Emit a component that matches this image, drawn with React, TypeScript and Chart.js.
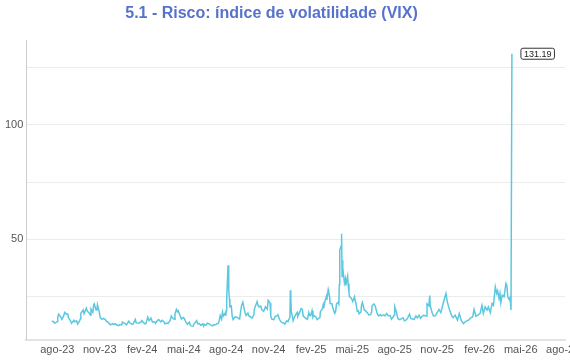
import { useEffect, useRef } from 'react';
import { Chart, registerables } from 'chart.js';

Chart.register(...registerables);

const titleText = '5.1 - Risco: índice de volatilidade (VIX)';

const dates: string[] = [
  '2023-07-20','2023-07-24','2023-07-26','2023-07-28','2023-08-01','2023-08-02','2023-08-04','2023-08-08','2023-08-11','2023-08-15',
  '2023-08-17','2023-08-21','2023-08-24','2023-08-25','2023-08-29','2023-09-01','2023-09-06','2023-09-08','2023-09-12','2023-09-14',
  '2023-09-18','2023-09-20','2023-09-21','2023-09-26','2023-09-28','2023-10-03','2023-10-05','2023-10-09','2023-10-12','2023-10-13',
  '2023-10-17','2023-10-19','2023-10-20','2023-10-24','2023-10-26','2023-10-27','2023-10-31','2023-11-02','2023-11-06','2023-11-09',
  '2023-11-13','2023-11-15','2023-11-20','2023-11-24','2023-11-29','2023-12-01','2023-12-05','2023-12-08','2023-12-12','2023-12-14',
  '2023-12-19','2023-12-20','2023-12-26','2023-12-29',
  '2024-01-03','2024-01-05','2024-01-09','2024-01-12','2024-01-17','2024-01-19','2024-01-24','2024-01-29','2024-01-31','2024-02-02',
  '2024-02-07','2024-02-09','2024-02-13','2024-02-16','2024-02-20','2024-02-23','2024-02-28','2024-03-01','2024-03-05','2024-03-08',
  '2024-03-12','2024-03-15','2024-03-19','2024-03-21','2024-03-26','2024-03-28','2024-04-02','2024-04-04','2024-04-08','2024-04-11',
  '2024-04-12','2024-04-15','2024-04-17','2024-04-19','2024-04-22','2024-04-24','2024-04-26','2024-04-30','2024-05-02','2024-05-06',
  '2024-05-09','2024-05-13','2024-05-15','2024-05-17','2024-05-21','2024-05-23','2024-05-29','2024-05-31','2024-06-04','2024-06-07',
  '2024-06-11','2024-06-13','2024-06-14','2024-06-18','2024-06-21','2024-06-25','2024-06-28','2024-07-02','2024-07-05','2024-07-09',
  '2024-07-11','2024-07-15','2024-07-17','2024-07-19','2024-07-22','2024-07-24','2024-07-26','2024-07-30','2024-07-31','2024-08-01',
  '2024-08-02','2024-08-05','2024-08-06','2024-08-07','2024-08-08','2024-08-09','2024-08-12','2024-08-14','2024-08-16','2024-08-20',
  '2024-08-23','2024-08-27','2024-08-30','2024-09-03','2024-09-06','2024-09-09','2024-09-11','2024-09-13','2024-09-17','2024-09-19',
  '2024-09-23','2024-09-26','2024-09-30','2024-10-01','2024-10-03','2024-10-07','2024-10-09','2024-10-11','2024-10-15','2024-10-17',
  '2024-10-21','2024-10-23','2024-10-25','2024-10-29','2024-10-31','2024-11-04','2024-11-05','2024-11-06','2024-11-08','2024-11-12',
  '2024-11-15','2024-11-19','2024-11-21','2024-11-25','2024-11-29','2024-12-03','2024-12-06','2024-12-10','2024-12-13','2024-12-17',
  '2024-12-18','2024-12-19','2024-12-20','2024-12-24','2024-12-27','2024-12-31',
  '2025-01-02','2025-01-03','2025-01-07','2025-01-10','2025-01-13','2025-01-15','2025-01-17','2025-01-22','2025-01-24','2025-01-27',
  '2025-01-29','2025-01-31','2025-02-03','2025-02-05','2025-02-07','2025-02-11','2025-02-14','2025-02-18','2025-02-20','2025-02-21',
  '2025-02-25','2025-02-27','2025-02-28','2025-03-03','2025-03-04','2025-03-06','2025-03-07','2025-03-10','2025-03-11','2025-03-13',
  '2025-03-14','2025-03-18','2025-03-20','2025-03-24','2025-03-26','2025-03-28','2025-03-31','2025-04-02','2025-04-03','2025-04-04',
  '2025-04-07','2025-04-08','2025-04-09','2025-04-10','2025-04-11','2025-04-14','2025-04-16','2025-04-17','2025-04-21','2025-04-22',
  '2025-04-24','2025-04-25','2025-04-29','2025-05-02','2025-05-06','2025-05-08','2025-05-09','2025-05-12','2025-05-14','2025-05-16',
  '2025-05-20','2025-05-21','2025-05-23','2025-05-27','2025-05-30','2025-06-03','2025-06-06','2025-06-10','2025-06-12','2025-06-13',
  '2025-06-17','2025-06-20','2025-06-24','2025-06-27','2025-07-01','2025-07-03','2025-07-08','2025-07-11','2025-07-15','2025-07-18',
  '2025-07-22','2025-07-25','2025-07-29','2025-07-31','2025-08-01','2025-08-05','2025-08-08','2025-08-12','2025-08-15','2025-08-19',
  '2025-08-22','2025-08-26','2025-08-29','2025-09-02','2025-09-05','2025-09-09','2025-09-12','2025-09-16','2025-09-19','2025-09-23',
  '2025-09-26','2025-09-30','2025-10-03','2025-10-08','2025-10-10','2025-10-14','2025-10-16','2025-10-17','2025-10-21','2025-10-24',
  '2025-10-28','2025-10-31','2025-11-05','2025-11-09','2025-11-14','2025-11-20','2025-11-23','2025-11-28','2025-12-03','2025-12-06',
  '2025-12-10','2025-12-15','2025-12-19','2025-12-23','2025-12-28',
  '2026-01-02','2026-01-08','2026-01-13','2026-01-17','2026-01-20','2026-01-24','2026-01-28','2026-02-02','2026-02-06','2026-02-09',
  '2026-02-13','2026-02-17','2026-02-20','2026-02-24','2026-02-28','2026-03-03','2026-03-07','2026-03-10','2026-03-12','2026-03-15',
  '2026-03-17','2026-03-19','2026-03-22','2026-03-26','2026-03-30','2026-04-01','2026-04-03','2026-04-06','2026-04-08','2026-04-10',
  '2026-04-12',
];

const vix: number[] = [
  13.99,13.91,13.19,13.33,13.93,15.88,17.10,15.99,14.84,16.46,
  17.89,17.13,17.20,15.68,14.45,13.09,14.45,13.84,14.23,12.82,
  14.00,15.14,17.54,18.94,17.34,19.78,18.49,17.70,16.69,19.32,
  17.88,21.40,21.71,18.97,19.22,21.27,18.14,15.66,14.89,15.29,
  14.76,14.18,13.41,12.46,12.98,12.63,12.85,12.35,12.07,12.48,
  12.53,13.67,12.99,12.45,
  14.04,13.35,12.76,12.70,14.79,13.30,13.14,13.60,14.35,13.85,
  12.83,12.93,15.85,14.24,15.42,13.75,13.84,13.11,14.46,14.74,
  13.75,14.41,13.82,12.92,13.24,13.01,14.61,16.35,15.19,14.91,
  17.31,19.23,18.21,18.71,16.94,15.97,15.03,15.65,15.39,13.49,
  12.69,13.60,12.45,11.99,11.86,12.77,14.28,12.92,13.06,12.22,
  12.85,11.94,12.66,12.30,13.20,12.84,12.44,12.03,12.48,12.52,
  12.89,13.12,14.48,16.52,14.91,18.04,16.39,17.69,16.36,18.59,
  23.39,38.57,27.71,27.85,23.79,20.37,20.71,16.19,14.80,15.88,
  15.86,15.43,15.00,20.72,22.38,19.45,17.69,16.56,17.61,16.33,
  15.89,15.37,16.73,19.26,20.49,22.64,20.86,20.46,20.64,19.11,
  18.37,19.24,20.33,19.34,23.16,21.98,20.49,16.27,14.94,14.71,
  16.14,16.35,16.87,14.60,13.51,13.30,12.77,14.18,13.81,15.87,
  27.62,24.09,18.36,14.27,15.95,17.35,
  17.93,16.13,17.82,19.54,19.19,16.12,15.97,15.10,14.85,17.90,
  16.56,16.43,18.62,15.77,16.54,16.02,14.77,15.35,15.66,18.21,
  19.43,21.13,19.63,22.78,23.51,24.87,23.37,27.86,26.92,24.66,
  21.77,21.70,19.80,17.48,18.33,21.65,22.28,21.51,30.02,45.31,
  46.98,52.33,33.62,40.72,37.56,30.89,32.64,29.65,33.82,30.57,
  26.47,24.84,24.17,22.68,24.76,22.48,21.90,18.39,18.62,17.24,
  18.09,20.87,22.29,18.96,18.57,17.69,16.77,16.95,18.02,20.82,
  21.60,20.62,17.48,16.32,16.83,16.38,16.81,16.40,17.38,16.41,
  16.50,14.93,15.98,16.72,20.38,17.85,15.15,14.73,15.09,15.57,
  14.22,14.62,15.36,17.17,15.18,15.04,14.76,16.36,15.45,16.64,
  15.29,16.28,16.65,16.30,21.66,20.81,25.31,20.78,17.87,16.37,
  16.42,17.44,19.2,17.8,21.8,26.2,22.5,18.9,16.2,15.6,
  16.7,14.5,17.4,14.5,13.0,
  14.0,14.5,15.6,15.9,19.2,16.2,16.7,17.4,21.0,17.4,
  20.3,18.9,20.3,17.8,21.8,21.0,29.1,26.2,27.3,24.0,
  26.2,22.1,25.4,24.7,30.6,29.8,24.7,23.6,24.4,18.9,
  131.19,
];

const tickDates: string[] = [
  '2023-08-01','2023-11-01','2024-02-01','2024-05-01','2024-08-01','2024-11-01','2025-02-01',
  '2025-05-01','2025-08-01','2025-11-01','2026-02-01','2026-05-01','2026-08-01',
];
const tickLabels: string[] = [
  'ago-23','nov-23','fev-24','mai-24','ago-24','nov-24','fev-25',
  'mai-25','ago-25','nov-25','fev-26','mai-26','ago-26',
];
const yGridValues: number[] = [25, 50, 75, 100, 125];
const yLabelValues: number[] = [50, 100];
const lastValueLabel = '131.19';

const dayNum = (s: string): number => {
  const [y, m, d] = s.split('-').map(Number);
  return Date.UTC(y, m - 1, d) / 864e5;
};

const titlePlugin = {
  id: 'customTitle',
  afterDraw(chart: any) {
    const ctx = chart.ctx;
    ctx.save();
    ctx.font = 'bold 16px "Liberation Sans", Arial, sans-serif';
    ctx.fillStyle = '#5772cc';
    ctx.textAlign = 'center';
    ctx.textBaseline = 'alphabetic';
    ctx.fillText(titleText, 271.5, 17.5);
    ctx.restore();
  },
};

const lastLabelPlugin = {
  id: 'lastLabel',
  afterDatasetsDraw(chart: any) {
    const meta = chart.getDatasetMeta(0);
    const pt = meta.data[meta.data.length - 1];
    if (!pt) return;
    const ctx = chart.ctx;
    ctx.save();
    ctx.font = '9px "Liberation Sans", Arial, sans-serif';
    const w = ctx.measureText(lastValueLabel).width;
    const padX = 3;
    const h = 11;
    const x0 = pt.x + 9;
    const y0 = pt.y - h / 2;
    const bw = w + padX * 2;
    ctx.beginPath();
    const r = 2;
    ctx.moveTo(x0 + r, y0);
    ctx.lineTo(x0 + bw - r, y0);
    ctx.quadraticCurveTo(x0 + bw, y0, x0 + bw, y0 + r);
    ctx.lineTo(x0 + bw, y0 + h - r);
    ctx.quadraticCurveTo(x0 + bw, y0 + h, x0 + bw - r, y0 + h);
    ctx.lineTo(x0 + r, y0 + h);
    ctx.quadraticCurveTo(x0, y0 + h, x0, y0 + h - r);
    ctx.lineTo(x0, y0 + r);
    ctx.quadraticCurveTo(x0, y0, x0 + r, y0);
    ctx.closePath();
    ctx.fillStyle = '#ffffff';
    ctx.fill();
    ctx.strokeStyle = '#333333';
    ctx.lineWidth = 1;
    ctx.stroke();
    ctx.fillStyle = '#222222';
    ctx.textAlign = 'left';
    ctx.textBaseline = 'middle';
    ctx.fillText(lastValueLabel, x0 + padX, pt.y + 0.5);
    ctx.restore();
  },
};

export default function App() {
  const ref = useRef<HTMLCanvasElement | null>(null);

  useEffect(() => {
    if (!ref.current) return;
    const points = dates.map((d, i) => ({ x: dayNum(d), y: vix[i] }));
    const tickNums = tickDates.map(dayNum);
    const chart = new Chart(ref.current, {
      type: 'line',
      data: {
        datasets: [
          {
            data: points,
            borderColor: '#5bc8e0',
            borderWidth: 1.5,
            pointRadius: 0,
            tension: 0,
            fill: false,
          },
        ],
      },
      options: {
        responsive: false,
        animation: false,
        devicePixelRatio: 1,
        layout: { padding: { top: 40, right: 5, bottom: -1, left: 2 } },
        plugins: {
          legend: { display: false },
          tooltip: { enabled: false },
          title: { display: false },
        },
        scales: {
          x: {
            type: 'linear',
            min: dayNum('2023-05-26'),
            max: dayNum('2026-08-05'),
            afterBuildTicks: (axis: any) => {
              axis.ticks = tickNums.map((v) => ({ value: v }));
            },
            afterFit: (axis: any) => {
              axis.paddingLeft = 0;
              axis.paddingRight = 0;
            },
            grid: { display: false, drawTicks: false },
            border: { display: true, color: '#e3e3e3', width: 2 },
            ticks: {
              autoSkip: false,
              maxRotation: 0,
              minRotation: 0,
              padding: 4,
              color: '#555555',
              font: { family: '"Liberation Sans", Arial, sans-serif', size: 11 },
              callback: (_v: any, i: number) => tickLabels[i],
            },
          },
          y: {
            type: 'linear',
            min: 5.9,
            max: 137.2,
            afterBuildTicks: (axis: any) => {
              axis.ticks = yGridValues.map((v) => ({ value: v }));
            },
            afterFit: (axis: any) => {
              axis.paddingTop = 0;
              axis.paddingBottom = 0;
            },
            grid: { color: '#ececec', lineWidth: 1, drawTicks: false },
            border: { display: true, color: '#cccccc', width: 1 },
            ticks: {
              padding: 3,
              color: '#555555',
              font: { family: '"Liberation Sans", Arial, sans-serif', size: 11 },
              callback: (v: any) => (yLabelValues.includes(Number(v)) ? String(v) : ''),
            },
          },
        },
      },
      plugins: [titlePlugin, lastLabelPlugin],
    });
    return () => chart.destroy();
  }, []);

  return (
    <div style={{ position: 'absolute', left: 0, top: 0, width: 570, height: 360, background: '#ffffff' }}>
      <canvas ref={ref} width={570} height={360} style={{ width: 570, height: 360, display: 'block' }} />
    </div>
  );
}
